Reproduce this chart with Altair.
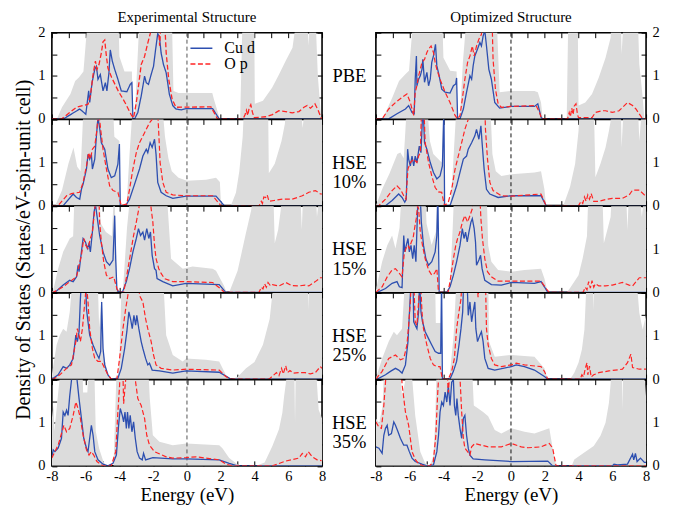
import altair as alt
import pandas as pd

FONT = "Liberation Serif"
W, H = 271, 86.5
BLUE = "#2d4fb0"
RED = "#ff2424"
GRAY = "#dcdcdc"

ROW_LABELS = ["PBE", "HSE\n10%", "HSE\n15%", "HSE\n25%", "HSE\n35%"]
COL_TITLES = ["Experimental Structure", "Optimized Structure"]
SERIES = ["Cu d", "O p"]
X_TICKS = list(range(-8, 9))
Y_TICKS = [0, 0.5, 1, 1.5, 2]
Y_TITLE = "Density of States (States/eV-spin-unit cell)"
X_TITLE = "Energy (eV)"

# ---------------- Experimental structure ----------------
EXP_PBE_TOT = [(-8,0),(-7.7,0),(-7.4,0.27),(-6.9,0.58),(-6.62,0.88),(-6.4,0.96),(-6.13,1.1),(-5.84,2.5),(-4.07,2.5),(-4.0,1.45),(-3.7,1.1),(-3.4,1.1),(-3.26,1.1),(-3.2,0),(-3.1,0),(-2.95,1.2),(-2.79,2.5),(-0.9,2.5),(-0.8,0.65),(-0.5,0.6),(1.5,0.6),(1.6,0.45),(1.95,0),(3.15,0),(3.3,2.5),(3.98,2.5),(4.02,0.35),(4.5,0.42),(5.05,0.73),(5.45,1.03),(5.85,1.35),(6.25,1.65),(6.55,2.5),(7.1,2.5),(7.2,1.7),(7.3,2.5),(7.6,2.5),(7.75,1.0),(7.95,0),(8,0)]
EXP_PBE_CU = [(-8,0),(-7.3,0),(-7.23,0.02),(-6.35,0.23),(-5.99,0.11),(-5.82,0.65),(-5.76,0.38),(-5.62,0.84),(-5.46,1.15),(-5.36,1.22),(-5.27,0.92),(-5.13,1.03),(-4.97,0.65),(-4.83,0.84),(-4.74,0.65),(-4.62,1.07),(-4.54,1.6),(-4.42,1.34),(-4.28,1.15),(-4.09,0.92),(-3.89,0.65),(-3.56,0.63),(-3.36,0.8),(-3.26,0.84),(-3.2,0),(-3.1,0),(-2.91,0.15),(-2.71,0.53),(-2.61,0.76),(-2.51,0.99),(-2.41,0.84),(-2.28,0.8),(-2.12,1.03),(-1.98,1.22),(-1.86,1.6),(-1.73,1.98),(-1.63,1.9),(-1.53,1.53),(-1.39,1.26),(-1.23,1.07),(-1.04,0.57),(-0.84,0.31),(-0.65,0.23),(-0.35,0.21),(-0.05,0.24),(1.52,0.24),(1.91,0),(8,0)]
EXP_PBE_O = [(-8,0),(-7.43,0),(-6.54,0.27),(-5.86,0.34),(-5.72,0.53),(-5.56,1.03),(-5.42,1.34),(-5.33,1.15),(-5.21,1.26),(-5.07,1.53),(-4.97,1.79),(-4.87,1.83),(-4.77,1.45),(-4.68,1.18),(-4.46,0.96),(-4.07,0.65),(-3.67,0.38),(-3.28,0.08),(-3.16,0.02),(-3.0,0.38),(-2.87,0.76),(-2.71,1.26),(-2.51,1.45),(-2.32,1.76),(-2.16,2.0),(-2.0,2.3),(-1.7,2.3),(-1.62,1.7),(-1.52,2.3),(-1.3,2.1),(-1.23,1.53),(-1.08,0.92),(-0.88,0.46),(-0.65,0.27),(1.42,0.28),(1.81,0),(3.33,0),(3.45,0.11),(3.52,0.2),(3.6,0.08),(3.68,0.25),(3.78,0.33),(3.88,0.15),(3.98,0.03),(4.66,0.05),(5.06,0.1),(5.45,0.19),(5.84,0.17),(6.24,0.14),(6.63,0.17),(6.93,0.27),(7.12,0.31),(7.32,0.25),(7.58,0.35),(7.77,0.2),(7.97,0)]

EXP_H10_TOT = [(-8,0),(-7.8,0),(-7.4,0.36),(-7.02,0.97),(-6.72,1.35),(-6.5,0.9),(-6.3,0.8),(-6.1,2.5),(-4.4,2.5),(-4.3,1.6),(-4.0,1.5),(-3.94,0),(-3.58,0),(-3.4,1.2),(-3.18,2.5),(-1.5,2.5),(-1.3,1.6),(-1.1,1.1),(-0.9,0.8),(-0.5,0.65),(0,0.58),(1.13,0.6),(1.72,0.65),(1.95,0.55),(2.02,0),(2.6,0),(2.9,0.3),(3.1,0.8),(3.3,1.6),(3.4,2.5),(4.8,2.5),(4.85,0.75),(5.2,0.97),(5.6,1.5),(5.8,1.9),(5.9,2.5),(6.7,2.5),(6.85,1.8),(7.05,2.5),(8,2.5)]
EXP_H10_CU = [(-8,0),(-7.33,0),(-6.74,0.27),(-6.54,0.19),(-6.35,0.15),(-6.25,0.38),(-6.15,0.5),(-5.95,0.85),(-5.86,1.19),(-5.76,1.08),(-5.66,1.19),(-5.6,0.85),(-5.46,1.08),(-5.36,1.62),(-5.27,2.05),(-5.17,1.8),(-5.07,1.46),(-4.87,1.31),(-4.68,0.85),(-4.48,0.65),(-4.28,0.69),(-4.09,0.96),(-4.0,1.43),(-3.95,0),(-3.63,0),(-3.4,0.15),(-3.1,0.5),(-2.81,0.85),(-2.61,1.15),(-2.41,1.31),(-2.32,1.23),(-2.18,1.46),(-2.06,1.35),(-1.92,1.54),(-1.83,1.19),(-1.73,0.54),(-1.53,0.31),(-1.23,0.23),(-0.84,0.17),(-0.05,0.22),(1.72,0.22),(2.21,0),(8,0)]
EXP_H10_O = [(-8,0),(-7.63,0),(-7.13,0.23),(-6.84,0.28),(-6.35,0.31),(-6.15,0.54),(-5.95,0.92),(-5.82,1.23),(-5.72,1.08),(-5.6,1.31),(-5.46,1.38),(-5.33,1.77),(-5.23,2.2),(-5.11,1.77),(-4.97,1.31),(-4.77,0.85),(-4.58,0.46),(-4.38,0.35),(-4.09,0.31),(-3.89,0),(-3.56,0.04),(-3.4,0.38),(-3.2,0.85),(-3.0,1.23),(-2.81,1.46),(-2.51,1.69),(-2.22,1.92),(-2.06,2.0),(-1.95,2.3),(-1.75,2.3),(-1.67,1.69),(-1.59,1.0),(-1.43,0.54),(-1.23,0.31),(-0.84,0.25),(-0.05,0.23),(1.52,0.23),(2.01,0),(4.27,0),(4.4,0.1),(4.47,0.05),(4.55,0.2),(4.66,0.19),(4.75,0.25),(4.86,0.1),(5.16,0.12),(5.65,0.15),(6.24,0.15),(6.83,0.23),(7.22,0.31),(7.61,0.35),(7.91,0.27),(8,0.27)]

EXP_H15_TOT = [(-8,0),(-7.92,0.05),(-7.63,0.55),(-7.33,0.94),(-6.94,1.25),(-6.74,1.3),(-6.64,2.5),(-5.2,2.5),(-5.1,1.6),(-4.8,1.4),(-4.45,1.3),(-4.3,2.5),(-4.2,1.0),(-4.15,0),(-3.8,0),(-3.55,1.5),(-3.3,2.5),(-1.23,2.5),(-0.94,0.78),(-0.25,0.55),(0.34,0.6),(1.52,0.55),(1.72,0.5),(2.2,0.15),(2.35,0),(2.5,0),(3.0,0.5),(3.45,1.3),(3.8,1.9),(4.0,2.5),(5.1,2.5),(5.2,1.14),(5.4,1.45),(5.55,1.9),(5.65,2.5),(6.7,2.5),(6.8,1.45),(6.9,2.5),(7.6,2.5),(7.7,1.75),(7.9,2.5),(8,2.5)]
EXP_H15_CU = [(-8,0),(-7.82,0),(-7.33,0.17),(-6.94,0.28),(-6.74,0.25),(-6.54,0.36),(-6.45,0.63),(-6.39,0.48),(-6.25,0.94),(-6.15,1.25),(-6.01,1.17),(-5.9,1.02),(-5.8,1.13),(-5.72,0.94),(-5.6,1.4),(-5.5,1.86),(-5.42,2.05),(-5.33,1.78),(-5.17,1.32),(-4.97,0.94),(-4.77,0.71),(-4.58,0.63),(-4.38,0.75),(-4.28,1.78),(-4.22,0.78),(-4.15,0.08),(-4.03,0),(-3.83,0),(-3.59,0.25),(-3.4,0.55),(-3.2,0.94),(-3.0,1.25),(-2.87,1.48),(-2.75,1.32),(-2.61,1.4),(-2.51,1.21),(-2.38,1.48),(-2.26,1.25),(-2.16,1.4),(-2.06,0.86),(-1.92,0.55),(-1.83,0.51),(-1.77,0.32),(-1.43,0.25),(-0.84,0.15),(-0.05,0.21),(1.91,0.18),(2.3,0),(8,0)]
EXP_H15_O = [(-8,0),(-7.92,0),(-7.33,0.13),(-6.94,0.25),(-6.54,0.36),(-6.39,0.63),(-6.25,0.86),(-6.11,1.25),(-5.99,1.09),(-5.86,1.02),(-5.72,1.25),(-5.6,1.4),(-5.46,1.94),(-5.38,2.3),(-5.22,2.3),(-5.17,1.63),(-5.07,1.17),(-4.93,0.71),(-4.77,0.4),(-4.58,0.32),(-4.34,0.36),(-4.15,0.09),(-4.03,0),(-3.75,0),(-3.56,0.4),(-3.36,0.86),(-3.16,1.32),(-3.0,1.63),(-2.85,1.94),(-2.75,2.3),(-2.2,2.3),(-2.12,1.94),(-2.02,1.63),(-1.92,1.09),(-1.83,0.78),(-1.67,0.55),(-1.53,0.44),(-1.33,0.32),(-0.84,0.25),(-0.05,0.25),(1.52,0.23),(2.01,0.08),(2.21,0),(4.27,0),(4.4,0.12),(4.5,0.08),(4.6,0.2),(4.7,0.12),(4.8,0.23),(4.95,0.15),(5.06,0.18),(5.45,0.15),(5.85,0.23),(6.2,0.16),(6.63,0.15),(7.0,0.17),(7.22,0.15),(7.6,0.25),(7.91,0.34),(8,0.34)]

EXP_H25_TOT = [(-8,0.1),(-7.72,0.79),(-7.53,1.02),(-7.33,1.17),(-7.13,1.1),(-6.94,1.56),(-6.74,2.5),(-5.3,2.5),(-5.2,1.2),(-5.06,1.9),(-4.95,0.6),(-4.7,0.15),(-4.5,0.02),(-4.1,0.02),(-4.0,0.5),(-3.85,2.5),(-1.43,2.5),(-1.23,1.02),(-0.84,0.56),(-0.25,0.41),(-0.05,0.48),(1.12,0.45),(1.91,0.41),(2.3,0.1),(2.6,0),(3.0,0.05),(3.5,0.25),(4.0,0.4),(4.5,0.8),(4.9,1.4),(5.2,2.5),(7.15,2.5),(7.2,1.6),(7.25,2.5),(8,2.5)]
EXP_H25_CU = [(-8,0.02),(-7.92,0.02),(-7.63,0.1),(-7.33,0.29),(-7.13,0.25),(-6.94,0.33),(-6.74,0.48),(-6.58,1.02),(-6.49,0.87),(-6.39,1.1),(-6.31,1.86),(-6.25,2.3),(-6.0,2.3),(-5.95,1.63),(-5.86,1.33),(-5.76,1.02),(-5.56,0.79),(-5.36,0.6),(-5.21,0.48),(-5.11,0.64),(-5.05,1.79),(-4.97,0.71),(-4.87,0.33),(-4.68,0.1),(-4.48,0),(-4.09,0.02),(-3.89,0.25),(-3.69,0.71),(-3.56,1.1),(-3.44,1.56),(-3.34,1.4),(-3.24,1.17),(-3.14,1.48),(-3.04,1.25),(-2.97,1.48),(-2.85,1.17),(-2.71,0.87),(-2.61,0.71),(-2.45,0.48),(-2.32,0.33),(-2.22,0.37),(-2.06,0.21),(-1.63,0.19),(-0.84,0.14),(-0.05,0.19),(1.91,0.16),(2.6,0),(8,0)]
EXP_H25_O = [(-8,0),(-7.92,0),(-7.53,0.1),(-7.13,0.25),(-6.84,0.33),(-6.58,0.87),(-6.49,1.17),(-6.39,1.02),(-6.31,0.87),(-6.19,1.17),(-6.05,1.79),(-5.95,2.2),(-5.86,1.79),(-5.76,1.17),(-5.6,0.71),(-5.46,0.48),(-5.27,0.41),(-5.07,0.41),(-4.87,0.25),(-4.68,0.1),(-4.48,0),(-4.15,0),(-3.99,0.48),(-3.79,1.17),(-3.63,1.63),(-3.5,1.94),(-3.4,2.3),(-2.85,2.3),(-2.81,1.94),(-2.61,1.79),(-2.45,1.4),(-2.32,1.17),(-2.12,0.87),(-1.98,0.56),(-1.83,0.33),(-1.53,0.25),(-0.84,0.21),(-0.05,0.23),(1.91,0.21),(2.3,0.06),(2.6,0),(4.86,0),(5.1,0.08),(5.3,0.15),(5.45,0.08),(5.6,0.25),(5.7,0.12),(5.85,0.31),(5.95,0.15),(6.1,0.2),(6.3,0.14),(6.6,0.15),(7.0,0.15),(7.3,0.12),(7.6,0.15),(7.9,0.29),(8,0.25)]

EXP_H35_TOT = [(-8,1.1),(-7.9,1.4),(-7.85,0.8),(-7.7,1.4),(-7.55,2.0),(-7.4,2.5),(-6.2,2.5),(-6.15,1.7),(-5.9,1.7),(-5.8,2.5),(-5.5,2.5),(-5.4,0.8),(-5.2,0.4),(-4.95,0.1),(-4.8,0),(-4.35,0),(-4.25,1.2),(-4.15,2.5),(-2.32,2.5),(-2.2,1.56),(-2.02,0.71),(-1.63,0.56),(-0.84,0.48),(-0.05,0.52),(1.91,0.48),(2.1,0.41),(2.5,0.18),(3.1,0),(4.1,0),(4.6,0.08),(5.06,0.46),(5.45,0.85),(5.65,1.23),(5.75,1.6),(5.85,1.9),(6.0,2.5),(6.35,2.5),(6.4,1.0),(6.45,2.5),(7.6,2.5),(7.8,1.3),(8,1.1)]
EXP_H35_CU = [(-8,0.21),(-7.92,0.37),(-7.82,0.33),(-7.63,0.41),(-7.43,0.64),(-7.33,1.25),(-7.23,1.17),(-7.13,1.29),(-7.04,1.17),(-6.94,1.63),(-6.84,1.98),(-6.8,2.3),(-6.55,2.3),(-6.51,2.0),(-6.39,1.56),(-6.25,1.1),(-6.11,0.64),(-5.95,0.41),(-5.86,0.33),(-5.76,0.64),(-5.66,0.94),(-5.56,0.71),(-5.46,0.33),(-5.27,0.14),(-4.97,0.04),(-4.68,0),(-4.38,0.06),(-4.18,0.25),(-4.05,0.94),(-3.95,1.33),(-3.83,1.17),(-3.75,1.02),(-3.67,1.25),(-3.59,0.87),(-3.52,1.25),(-3.44,0.87),(-3.36,1.17),(-3.26,0.79),(-3.16,1.02),(-3.06,0.64),(-2.95,0.33),(-2.81,0.18),(-2.65,0.14),(-2.57,0.29),(-2.45,0.14),(-2.02,0.19),(-0.84,0.16),(-0.05,0.16),(1.91,0.14),(2.5,0.06),(2.99,0),(8,0)]
EXP_H35_O = [(-8,0.18),(-7.82,0.33),(-7.63,0.48),(-7.43,0.75),(-7.29,0.94),(-7.13,0.79),(-6.94,0.87),(-6.74,1.17),(-6.58,1.48),(-6.45,1.33),(-6.31,1.1),(-6.15,0.71),(-5.95,0.37),(-5.8,0.25),(-5.66,0.33),(-5.52,0.25),(-5.33,0.1),(-4.97,0),(-4.48,0),(-4.22,0.33),(-4.09,1.25),(-3.99,1.86),(-3.95,2.3),(-3.8,2.3),(-3.75,1.44),(-3.63,2.0),(-3.55,2.3),(-3.1,2.3),(-3.04,1.94),(-2.91,1.56),(-2.71,1.4),(-2.51,1.1),(-2.38,0.71),(-2.22,0.48),(-1.92,0.33),(-1.23,0.21),(-0.84,0.18),(-0.05,0.19),(0.54,0.21),(1.91,0.14),(2.3,0.04),(2.7,0),(5.06,0),(5.84,0.11),(6.63,0.18),(6.83,0.29),(7.02,0.21),(7.18,0.33),(7.42,0.21),(7.71,0.14),(7.97,0.12)]

# ---------------- Optimized structure ----------------
OPT_PBE_TOT = [(-8,0),(-7.6,0),(-7.02,0.5),(-6.63,0.88),(-6.24,1.04),(-6.04,1.12),(-5.75,2.5),(-4.08,2.5),(-4.0,1.42),(-3.6,1.12),(-3.22,1.1),(-3.16,0),(-3.03,0),(-2.85,1.3),(-2.6,2.5),(-0.86,2.5),(-0.67,0.62),(0.02,0.65),(1.39,0.65),(1.59,0.62),(1.78,0.38),(1.88,0),(3.3,0),(3.4,2.5),(3.95,2.5),(4.0,0.31),(4.4,0.38),(4.8,0.58),(5.2,0.96),(5.6,1.42),(5.9,1.88),(6.0,2.5),(6.5,2.5),(6.55,1.5),(6.7,2.5),(7.5,2.5),(7.6,1.27),(7.8,0.5),(7.9,0),(8,0)]
OPT_PBE_CU = [(-8,0),(-7.24,0),(-6.75,0.12),(-6.25,0.23),(-6.06,0.31),(-5.86,0.15),(-5.73,0.12),(-5.67,0.92),(-5.6,1.46),(-5.57,0.77),(-5.47,0.92),(-5.37,1.0),(-5.27,1.15),(-5.22,1.38),(-5.12,0.85),(-4.98,1.08),(-4.88,0.77),(-4.78,0.92),(-4.69,1.31),(-4.59,1.46),(-4.47,1.73),(-4.39,1.23),(-4.25,1.0),(-4.1,0.69),(-3.9,0.62),(-3.61,0.6),(-3.41,0.77),(-3.27,0.81),(-3.22,0.95),(-3.16,0),(-3.02,0),(-2.82,0.23),(-2.63,0.62),(-2.43,1.0),(-2.33,0.92),(-2.24,1.23),(-2.14,1.46),(-1.98,1.62),(-1.84,1.77),(-1.75,1.69),(-1.65,1.92),(-1.55,2.05),(-1.45,1.69),(-1.31,1.15),(-1.16,0.92),(-0.96,0.38),(-0.67,0.25),(0.02,0.29),(1.39,0.29),(1.59,0.35),(1.78,0.04),(1.88,0),(8,0)]
OPT_PBE_O = [(-8,0),(-7.63,0),(-7.24,0.23),(-6.84,0.38),(-6.45,0.5),(-6.16,0.58),(-5.96,0.38),(-5.76,0.08),(-5.67,0.62),(-5.57,0.77),(-5.47,1.0),(-5.37,1.15),(-5.27,1.31),(-5.12,1.38),(-4.98,1.54),(-4.88,1.62),(-4.73,1.69),(-4.59,1.54),(-4.49,1.31),(-4.39,1.15),(-4.2,0.92),(-3.9,0.62),(-3.61,0.38),(-3.31,0.08),(-3.16,0),(-3.02,0.08),(-2.88,0.46),(-2.73,0.92),(-2.57,1.31),(-2.43,1.46),(-2.29,1.69),(-2.18,1.46),(-2.04,1.69),(-1.9,1.85),(-1.75,1.96),(-1.65,2.3),(-1.12,2.3),(-1.06,1.38),(-0.92,0.69),(-0.76,0.35),(-0.57,0.27),(0.02,0.29),(1.49,0.31),(1.69,0.15),(1.82,0),(3.35,0),(3.45,0.15),(3.52,0.05),(3.6,0.25),(3.68,0.1),(3.75,0.3),(3.85,0.35),(3.94,0.1),(4.0,0.03),(4.8,0.03),(5.0,0.15),(5.4,0.19),(5.6,0.19),(6.0,0.15),(6.4,0.19),(6.9,0.38),(7.2,0.31),(7.4,0.23),(7.8,0.0),(8,0)]

OPT_H10_TOT = [(-8,0),(-7.63,0.38),(-7.2,0.74),(-6.73,1.2),(-6.55,1.23),(-6.35,1.1),(-6.14,2.5),(-5.0,2.5),(-4.8,1.5),(-4.6,1.2),(-4.1,1.0),(-3.98,2.5),(-3.92,0),(-3.6,0),(-3.45,0.8),(-3.2,2.5),(-1.24,2.5),(-1.1,1.2),(-0.9,0.8),(-0.57,0.69),(0.02,0.73),(1.39,0.77),(1.78,0.8),(1.98,0.38),(2.08,0),(3.1,0),(3.5,0.44),(3.8,0.97),(4.0,1.73),(4.1,2.5),(4.9,2.5),(5.0,0.66),(5.3,0.97),(5.6,1.35),(5.8,1.73),(5.9,1.96),(6.0,2.5),(6.5,2.5),(6.55,1.35),(6.7,2.5),(7.5,2.5),(7.6,1.5),(7.8,2.5),(8,2.5)]
OPT_H10_CU = [(-8,0),(-7.43,0),(-7.04,0.12),(-6.65,0.27),(-6.45,0.19),(-6.29,0.08),(-6.2,0.15),(-6.12,1.31),(-6.06,1.08),(-5.96,0.92),(-5.86,1.15),(-5.76,0.92),(-5.67,1.15),(-5.57,1.0),(-5.43,1.38),(-5.33,1.23),(-5.24,2.05),(-5.18,2.05),(-5.12,1.46),(-4.98,1.31),(-4.78,1.0),(-4.59,0.77),(-4.39,0.62),(-4.2,0.69),(-4.06,0.92),(-3.97,2.3),(-3.93,0),(-3.61,0),(-3.41,0.23),(-3.22,0.46),(-3.02,0.77),(-2.82,1.08),(-2.63,1.15),(-2.53,1.31),(-2.33,1.46),(-2.14,1.62),(-2.04,1.77),(-1.9,1.54),(-1.78,1.85),(-1.71,1.46),(-1.59,0.85),(-1.45,0.38),(-1.25,0.27),(-0.76,0.19),(0.02,0.23),(1.78,0.23),(2.08,0),(8,0)]
OPT_H10_O = [(-8,0),(-7.82,0),(-7.43,0.15),(-7.04,0.35),(-6.75,0.46),(-6.55,0.38),(-6.35,0.23),(-6.22,0.15),(-6.1,0.85),(-5.96,1.0),(-5.76,1.08),(-5.57,1.0),(-5.47,1.15),(-5.37,1.23),(-5.29,2.3),(-5.16,2.3),(-5.08,1.46),(-4.88,1.0),(-4.69,0.69),(-4.49,0.42),(-4.29,0.32),(-4.1,0.31),(-3.94,0),(-3.71,0.08),(-3.51,0.38),(-3.31,0.85),(-3.12,1.15),(-2.92,1.46),(-2.73,1.77),(-2.53,2.0),(-2.45,2.3),(-1.55,2.3),(-1.51,1.77),(-1.39,1.08),(-1.25,0.54),(-1.06,0.35),(-0.57,0.23),(0.02,0.22),(1.78,0.27),(2.08,0),(4.0,0),(4.15,0.1),(4.25,0.05),(4.35,0.2),(4.45,0.1),(4.55,0.25),(4.65,0.15),(4.75,0.28),(4.9,0.1),(5.2,0.1),(5.6,0.14),(6.0,0.17),(6.6,0.17),(7.0,0.25),(7.2,0.36),(7.6,0.36),(7.9,0.25),(8,0.25)]

OPT_H15_TOT = [(-8,0.05),(-7.63,0.71),(-7.33,1.09),(-7.04,1.32),(-6.84,1.02),(-6.6,1.5),(-6.45,2.5),(-5.1,2.5),(-5.0,1.6),(-4.7,1.1),(-4.45,1.4),(-4.35,2.5),(-4.27,0),(-3.72,0),(-3.6,0.3),(-3.45,1.5),(-3.35,2.5),(-1.45,2.5),(-1.35,1.09),(-1.16,0.71),(-0.76,0.52),(0.02,0.48),(0.8,0.52),(1.78,0.55),(1.98,0.32),(2.18,0),(3.3,0),(3.5,0.1),(4.0,0.4),(4.25,0.8),(4.5,1.3),(4.6,2.5),(5.4,2.5),(5.5,1.14),(5.7,1.44),(5.9,1.75),(6.0,2.5),(6.8,2.5),(6.9,1.44),(7.0,2.5),(7.6,2.5),(7.75,1.75),(7.95,2.5),(8,2.5)]
OPT_H15_CU = [(-8,0),(-7.92,0),(-7.43,0.09),(-7.04,0.21),(-6.75,0.25),(-6.61,0.13),(-6.45,0.11),(-6.35,1.32),(-6.29,0.94),(-6.2,1.09),(-6.1,1.25),(-6.02,0.94),(-5.92,1.09),(-5.82,0.78),(-5.73,1.09),(-5.63,0.71),(-5.53,1.94),(-5.45,2.3),(-5.38,2.3),(-5.31,1.63),(-5.18,1.09),(-5.04,0.78),(-4.88,0.63),(-4.69,0.71),(-4.49,0.94),(-4.39,1.32),(-4.33,2.3),(-4.25,0),(-3.8,0),(-3.61,0.13),(-3.41,0.4),(-3.22,0.71),(-3.02,1.09),(-2.88,1.48),(-2.78,1.25),(-2.69,1.4),(-2.59,1.17),(-2.49,1.4),(-2.37,1.63),(-2.29,1.71),(-2.18,1.48),(-2.1,1.17),(-2.04,0.63),(-1.9,0.75),(-1.8,0.86),(-1.71,0.55),(-1.55,0.28),(-1.16,0.18),(-0.57,0.17),(0.02,0.23),(1.39,0.21),(1.78,0.25),(1.98,0.13),(2.18,0),(8,0)]
OPT_H15_O = [(-8,0),(-7.63,0.13),(-7.33,0.36),(-7.04,0.52),(-6.84,0.55),(-6.61,0.44),(-6.45,0.36),(-6.33,0.86),(-6.22,1.02),(-6.1,1.09),(-6.02,1.02),(-5.9,1.17),(-5.8,1.25),(-5.71,1.48),(-5.61,1.71),(-5.53,2.0),(-5.47,1.94),(-5.37,1.4),(-5.24,1.09),(-5.08,0.78),(-4.88,0.52),(-4.69,0.4),(-4.53,0.44),(-4.39,0.55),(-4.29,0),(-3.73,0),(-3.61,0.25),(-3.41,0.78),(-3.27,1.09),(-3.16,1.25),(-3.02,1.4),(-2.88,1.63),(-2.73,1.78),(-2.57,1.63),(-2.43,1.78),(-2.29,1.94),(-2.22,2.3),(-1.85,2.3),(-1.78,1.71),(-1.69,1.25),(-1.55,0.78),(-1.39,0.48),(-1.16,0.36),(-0.76,0.26),(0.02,0.26),(1.78,0.26),(2.08,0.09),(2.27,0),(4.27,0),(4.4,0.12),(4.5,0.06),(4.6,0.25),(4.7,0.1),(4.8,0.27),(4.9,0.12),(5.0,0.2),(5.2,0.15),(5.6,0.15),(6.0,0.17),(6.6,0.23),(7.0,0.17),(7.2,0.15),(7.6,0.34),(8,0.34)]

OPT_H25_TOT = [(-8,0.02),(-7.63,0.48),(-7.24,0.87),(-6.94,1.1),(-6.75,1.02),(-6.45,1.17),(-6.25,2.5),(-4.5,2.5),(-4.45,1.3),(-4.15,1.3),(-4.11,2.5),(-4.05,0),(-3.65,0),(-3.4,1.0),(-3.2,2.5),(-1.35,2.5),(-1.3,0.87),(-0.96,0.52),(0.02,0.56),(1.39,0.52),(1.98,0.25),(2.18,0),(3.5,0),(3.75,0.15),(4.0,0.38),(4.2,0.69),(4.35,1.15),(4.5,2.5),(4.85,2.5),(4.9,1.6),(4.95,2.5),(7.4,2.5),(7.6,1.54),(7.8,1.15),(8,1.5)]
OPT_H25_CU = [(-8,0),(-7.92,0),(-7.43,0.1),(-7.14,0.18),(-6.84,0.25),(-6.65,0.21),(-6.45,0.14),(-6.25,0.33),(-6.1,0.87),(-6.02,1.48),(-5.96,1.94),(-5.93,2.3),(-5.8,2.3),(-5.76,1.33),(-5.67,1.25),(-5.57,1.17),(-5.47,1.56),(-5.41,2.3),(-5.33,1.56),(-5.24,1.33),(-5.08,1.1),(-4.88,0.94),(-4.69,0.79),(-4.49,0.64),(-4.29,0.6),(-4.16,0.6),(-4.11,2.3),(-4.06,0),(-3.61,0),(-3.41,0.18),(-3.22,0.41),(-3.08,0.79),(-2.96,1.17),(-2.86,1.56),(-2.8,2.3),(-2.6,2.3),(-2.53,1.48),(-2.43,1.79),(-2.33,1.33),(-2.24,1.56),(-2.14,1.79),(-2.08,1.17),(-1.98,0.87),(-1.84,1.02),(-1.75,1.1),(-1.65,0.87),(-1.55,0.48),(-1.35,0.25),(-0.96,0.21),(0.02,0.29),(0.31,0.33),(0.8,0.29),(1.39,0.21),(1.98,0.06),(2.18,0),(8,0)]
OPT_H25_O = [(-8,0),(-7.63,0.18),(-7.24,0.48),(-6.84,0.56),(-6.55,0.45),(-6.35,0.48),(-6.16,0.79),(-6.06,1.25),(-5.96,1.79),(-5.9,2.3),(-5.76,2.3),(-5.67,1.33),(-5.57,1.25),(-5.47,1.79),(-5.4,2.3),(-5.32,2.0),(-5.27,1.56),(-5.18,1.17),(-4.98,0.79),(-4.78,0.48),(-4.59,0.33),(-4.39,0.29),(-4.2,0.29),(-4.06,0),(-3.71,0),(-3.51,0.18),(-3.35,0.48),(-3.22,1.17),(-3.08,1.56),(-2.96,1.86),(-2.9,2.3),(-2.0,2.3),(-1.95,1.9),(-1.85,2.3),(-1.51,2.3),(-1.45,1.17),(-1.35,0.79),(-1.16,0.48),(-0.96,0.33),(-0.57,0.29),(0.02,0.33),(0.31,0.37),(0.8,0.33),(1.78,0.29),(1.98,0.18),(2.18,0),(4.1,0),(4.2,0.1),(4.3,0.05),(4.4,0.25),(4.5,0.38),(4.55,0.1),(4.65,0.3),(4.75,0.05),(4.9,0.1),(5.2,0.15),(5.8,0.19),(6.6,0.23),(6.9,0.38),(7.1,0.58),(7.2,0.27),(7.6,0.23),(8,0.23)]

OPT_H35_TOT = [(-8,1.1),(-7.8,1.0),(-7.6,1.4),(-7.5,2.5),(-6.6,2.5),(-6.45,1.6),(-6.25,2.0),(-6.1,2.5),(-5.95,2.5),(-5.67,1.17),(-5.37,0.33),(-5.08,0.06),(-4.78,0),(-4.59,0.25),(-4.49,1.0),(-4.39,2.5),(-2.33,2.5),(-2.2,1.4),(-1.94,1.33),(-1.65,1.25),(-1.35,1.15),(-0.96,0.83),(-0.57,0.75),(0.02,0.87),(0.8,0.79),(1.39,0.75),(1.98,0.83),(2.27,0.87),(2.47,0.41),(2.67,0),(3.6,0),(3.75,0.15),(4.3,0.3),(4.9,0.46),(5.3,0.7),(5.6,1.0),(5.8,1.46),(5.9,1.9),(6.0,2.5),(6.55,2.5),(6.6,1.3),(6.65,2.5),(7.8,2.5),(8,1.6)]
OPT_H35_CU = [(-8,0.44),(-7.82,0.41),(-7.63,0.29),(-7.53,0.71),(-7.43,0.87),(-7.33,0.94),(-7.24,0.71),(-7.08,0.75),(-6.94,1.02),(-6.84,0.94),(-6.69,0.79),(-6.55,0.64),(-6.35,0.48),(-6.16,0.48),(-6.02,0.33),(-5.86,0.18),(-5.67,0.1),(-5.27,0.04),(-4.98,0),(-4.59,0.02),(-4.39,0.33),(-4.29,0.71),(-4.2,1.25),(-4.1,1.48),(-4.0,1.4),(-3.9,1.71),(-3.8,1.48),(-3.71,1.86),(-3.61,1.4),(-3.51,1.94),(-3.41,2.0),(-3.35,1.4),(-3.27,1.17),(-3.2,1.56),(-3.12,1.17),(-3.02,0.87),(-2.92,0.64),(-2.82,1.1),(-2.73,1.17),(-2.63,0.71),(-2.53,0.41),(-2.43,0.25),(-2.24,0.16),(-1.55,0.14),(0.02,0.1),(2.18,0.11),(2.47,0),(6.0,0),(6.1,0.04),(6.3,0.02),(6.9,0.04),(7.2,0.27),(7.27,0.14),(7.37,0.29),(7.47,0.1),(7.67,0.18),(7.9,0.08),(8,0.08)]
OPT_H35_O = [(-8,1.02),(-7.82,0.9),(-7.67,0.87),(-7.53,1.4),(-7.43,1.94),(-7.38,2.3),(-6.5,2.3),(-6.45,1.9),(-6.25,1.25),(-6.06,0.94),(-5.96,0.64),(-5.86,0.33),(-5.67,0.15),(-5.47,0.05),(-5.2,0),(-4.8,0),(-4.6,0.1),(-4.45,0.7),(-4.35,1.6),(-4.25,2.3),(-3.8,2.3),(-3.71,1.7),(-3.6,2.3),(-3.05,2.3),(-2.92,1.25),(-2.82,0.64),(-2.73,0.41),(-2.57,0.33),(-2.43,0.25),(-2.33,0.44),(-2.14,0.52),(-1.75,0.48),(-1.35,0.44),(-0.57,0.44),(0.02,0.52),(0.61,0.44),(1.0,0.42),(1.78,0.44),(2.27,0.52),(2.47,0.41),(2.67,0),(8,0)]

PANELS = [
    [(EXP_PBE_TOT, EXP_PBE_CU, EXP_PBE_O), (EXP_H10_TOT, EXP_H10_CU, EXP_H10_O),
     (EXP_H15_TOT, EXP_H15_CU, EXP_H15_O), (EXP_H25_TOT, EXP_H25_CU, EXP_H25_O),
     (EXP_H35_TOT, EXP_H35_CU, EXP_H35_O)],
    [(OPT_PBE_TOT, OPT_PBE_CU, OPT_PBE_O), (OPT_H10_TOT, OPT_H10_CU, OPT_H10_O),
     (OPT_H15_TOT, OPT_H15_CU, OPT_H15_O), (OPT_H25_TOT, OPT_H25_CU, OPT_H25_O),
     (OPT_H35_TOT, OPT_H35_CU, OPT_H35_O)],
]
ZERO_COLORS = ["#555555", "#111111"]


def to_df(pts):
    return pd.DataFrame(pts, columns=["E", "v"])


AX = dict(domain=False, grid=False, ticks=True, tickSize=5, tickWidth=1,
          tickColor="black", offset=-5, labelFont=FONT, labelFontSize=14.5,
          labelColor="black", titleFont=FONT,
          titleFontWeight="normal", titleColor="black")


def make_panel(col, row, tot, cu, op):
    top = row == 0
    bottom = row == 4
    xs = alt.Scale(domain=[-8, 8], nice=False, zero=False)
    ys = alt.Scale(domain=[0, 2], nice=False, zero=False)
    xlab = "datum.value % 2 == 0 ? '' + datum.value : ''"
    ycond = "datum.value == 0 || datum.value == 1" + (" || datum.value == 2" if top else "")
    ylab = f"({ycond}) ? '' + datum.value : ''"

    xb = alt.Axis(orient="bottom", values=X_TICKS, labels=bottom, labelExpr=xlab,
                  labelFlush=False, labelPadding=4, titlePadding=2, titleFontSize=19,
                  title=X_TITLE if bottom else None, **AX)
    xt = alt.Axis(orient="top", values=X_TICKS, labels=False, title=None, **AX)
    yl = alt.Axis(orient="left", values=Y_TICKS, labels=(col == 0), labelExpr=ylab,
                  labelPadding=7, titlePadding=4, titleFontSize=20,
                  title=Y_TITLE if (col == 0 and row == 2) else None, **AX)
    yr = alt.Axis(orient="right", values=Y_TICKS, labels=(col == 1), labelExpr=ylab,
                  labelPadding=6, title=None, **AX)

    area = alt.Chart(to_df(tot)).mark_area(color=GRAY, clip=True).encode(
        x=alt.X("E:Q", scale=xs, axis=xb),
        y=alt.Y("v:Q", scale=ys, axis=yl),
    )
    zero = alt.Chart(pd.DataFrame({"E": [0]})).mark_rule(
        color=ZERO_COLORS[col], strokeDash=[4, 3], strokeWidth=1).encode(
        x=alt.X("E:Q", scale=xs, axis=None))

    layers = [area, zero]
    if col == 0 and row == 0:
        d = pd.concat([to_df(cu).assign(series=SERIES[0]),
                       to_df(op).assign(series=SERIES[1])])
        leg = alt.Legend(orient="none", legendX=138, legendY=8, title=None,
                         symbolType="stroke", symbolSize=484, symbolStrokeWidth=1.5,
                         labelFont=FONT, labelFontSize=16, labelColor="black",
                         labelOffset=11, clipHeight=15, rowPadding=-2, padding=0)
        lines = alt.Chart(d).mark_line(strokeWidth=1.3, clip=True).encode(
            x=alt.X("E:Q", scale=xs, axis=xt),
            y=alt.Y("v:Q", scale=ys, axis=yr),
            color=alt.Color("series:N", scale=alt.Scale(domain=SERIES, range=[BLUE, RED]), legend=leg),
            strokeDash=alt.StrokeDash("series:N", scale=alt.Scale(domain=SERIES, range=[[1, 0], [5, 2.5]]), legend=leg),
            order=alt.Order("series:N"),
            detail="series:N",
        )
        layers.append(lines)
    else:
        blue = alt.Chart(to_df(cu)).mark_line(color=BLUE, strokeWidth=1.3, clip=True).encode(
            x=alt.X("E:Q", scale=xs, axis=xt),
            y=alt.Y("v:Q", scale=ys, axis=yr),
        )
        red = alt.Chart(to_df(op)).mark_line(color=RED, strokeWidth=1.2, strokeDash=[5, 2.5], clip=True).encode(
            x=alt.X("E:Q", scale=xs, axis=None),
            y=alt.Y("v:Q", scale=ys, axis=None),
        )
        layers += [blue, red]

    if col == 0:
        lab = alt.Chart(pd.DataFrame({"t": [ROW_LABELS[row]]})).mark_text(
            font=FONT, fontSize=18.5, lineBreak="\n", lineHeight=19.5,
            align="center", baseline="middle", color="black").encode(
            text="t:N", x=alt.value(W + 27.5), y=alt.value(H / 2))
        layers.append(lab)

    props = dict(width=W, height=H)
    if top:
        props["title"] = alt.TitleParams(COL_TITLES[col], font=FONT, fontSize=15,
                                         fontWeight="normal", color="black",
                                         anchor="middle", offset=0)
    return alt.layer(*layers).properties(**props).resolve_axis(
        x="independent", y="independent")


panels = []
for r in range(5):
    for c in range(2):
        panels.append(make_panel(c, r, *PANELS[c][r]))

chart = alt.concat(*panels, columns=2, spacing={"row": 0, "column": 54},
                   bounds="flush").properties(
    padding={"left": 4, "top": 0, "right": 5, "bottom": 0}
).configure_view(stroke="black", strokeWidth=1.6
).configure_axis(labelFont=FONT, titleFont=FONT
).configure_legend(labelFont=FONT
).configure_title(font=FONT)

chart.save("out.html", embed_options={"renderer": "svg", "actions": False})
